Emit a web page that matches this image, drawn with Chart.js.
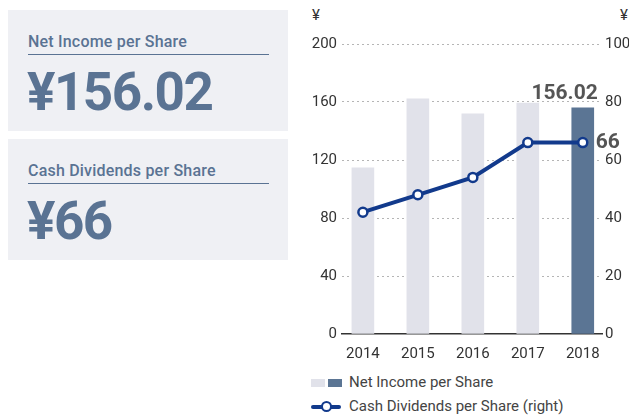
<!DOCTYPE html>
<html>
<head>
<meta charset="utf-8">
<script src="https://cdn.jsdelivr.net/npm/chart.js@4/dist/chart.umd.min.js"></script>
<style>
  body { margin: 0; width: 629px; height: 415px; background: #fff; font-family: Roboto, sans-serif; position: relative; overflow: hidden; }
  .panel { position: absolute; left: 8px; width: 280px; height: 121px; background: #eff0f4; color: #5a7393; }
  .panel .title { position: absolute; left: 20px; top: 22px; width: 241px; font-size: 16px; font-weight: 500; padding-bottom: 3px; border-bottom: 1px solid #5a7393; letter-spacing: 0.2px; }
  .panel .value { position: absolute; left: 19px; top: 56px; font-size: 53px; font-weight: 700; letter-spacing: -1.5px; line-height: 1; }
  .unit { position: absolute; top: 6px; font-size: 15px; color: #333; }
  .legend { position: absolute; left: 311px; font-size: 15px; color: #444; }
  .sw { position: absolute; top: 5px; width: 14px; height: 8px; }
  .lline { position: absolute; left: 0; top: 7px; width: 30px; height: 4px; background: #123a8c; border-radius: 2px; }
  .ldot { position: absolute; left: 10px; top: 3px; width: 7px; height: 7px; border: 2.5px solid #123a8c; border-radius: 50%; background: #fff; }
  .legend span.txt { position: absolute; left: 38px; top: -1px; white-space: nowrap; }
</style>
</head>
<body>
<div class="panel" style="top:10px"><div class="title">Net Income per Share</div><div class="value" id="v1"></div></div>
<div class="panel" style="top:139px"><div class="title">Cash Dividends per Share</div><div class="value" id="v2"></div></div>
<div class="unit" style="left:312px">¥</div>
<div class="unit" style="left:620px">¥</div>
<canvas id="chart" width="339" height="360" style="position:absolute;left:290px;top:0"></canvas>
<div class="legend" style="top:374px">
  <div class="sw" style="left:0;background:#e1e2ea"></div>
  <div class="sw" style="left:17px;background:#5b7594"></div>
  <span class="txt">Net Income per Share</span>
</div>
<div class="legend" style="top:398px">
  <div class="lline"></div><div class="ldot"></div>
  <span class="txt">Cash Dividends per Share (right)</span>
</div>
<script>
const years = ['2014', '2015', '2016', '2017', '2018'];
const netIncome = [114.6, 162.2, 151.8, 159.3, 156.02];
const dividends = [42, 48, 54, 66, 66];
const leftTicks = [0, 40, 80, 120, 160, 200];
const rightTicks = [0, 20, 40, 60, 80, 100];

const last = years.length - 1;
document.getElementById('v1').textContent = '¥' + netIncome[last].toFixed(2);
document.getElementById('v2').textContent = '¥' + dividends[last];

const tickFont = { family: 'Roboto', size: 15 };

// bold values next to the latest year
const latestLabels = {
    id: 'latestLabels',
    afterDatasetsDraw(chart) {
        const ctx = chart.ctx;
        const bar = chart.getDatasetMeta(0).data[last];
        const pt = chart.getDatasetMeta(1).data[last];
        ctx.save();
        ctx.fillStyle = '#555';
        ctx.font = 'bold 21px Roboto';
        ctx.textAlign = 'right';
        ctx.textBaseline = 'alphabetic';
        ctx.fillText(netIncome[last].toFixed(2), bar.x + 15, bar.y - 9);
        ctx.textAlign = 'left';
        ctx.textBaseline = 'middle';
        ctx.fillText(String(dividends[last]), pt.x + 13, pt.y);
        ctx.restore();
    }
};

new Chart(document.getElementById('chart'), {
    type: 'bar',
    data: {
        datasets: [{
            type: 'bar',
            label: 'Net Income per Share',
            data: netIncome.map((v, i) => ({ x: i, y: v })),
            backgroundColor: netIncome.map((v, i) => i === last ? '#5b7594' : '#e1e2ea'),
            barThickness: 22,
            yAxisID: 'y',
            order: 2
        }, {
            type: 'line',
            label: 'Cash Dividends per Share (right)',
            data: dividends.map((v, i) => ({ x: i, y: v })),
            borderColor: '#123a8c',
            borderWidth: 4,
            pointRadius: 4.5,
            pointBackgroundColor: '#fff',
            pointBorderColor: '#123a8c',
            pointBorderWidth: 2.5,
            tension: 0,
            yAxisID: 'y1',
            order: 1
        }]
    },
    options: {
        responsive: false,
        animation: false,
        layout: { padding: { top: 44, left: 0, right: 0, bottom: 0 } },
        plugins: { legend: { display: false }, tooltip: { enabled: false } },
        scales: {
            x: {
                type: 'linear',
                offset: false,
                min: -0.38,
                max: 4.35,
                grid: { display: false, offset: false },
                border: { display: true, color: '#333', width: 1.5 },
                ticks: {
                    stepSize: 1,
                    includeBounds: false,
                    autoSkip: false,
                    maxRotation: 0,
                    padding: 3,
                    color: '#333',
                    font: tickFont,
                    callback: v => Number.isInteger(v) ? years[v] : ''
                },
                afterFit: s => { s.height = 26; }
            },
            y: {
                position: 'left',
                min: 0,
                max: 200,
                afterBuildTicks: s => { s.ticks = leftTicks.map(v => ({ value: v })); },
                grid: {
                    drawTicks: false,
                    color: c => c.tick && c.tick.value === 0 ? 'rgba(0,0,0,0)' : '#b5b5b5'
                },
                border: { display: false, dash: [2, 3] },
                ticks: { padding: 5, color: '#333', font: tickFont },
                afterFit: s => { s.width = 52; }
            },
            y1: {
                position: 'right',
                min: 0,
                max: 100,
                afterBuildTicks: s => { s.ticks = rightTicks.map(v => ({ value: v })); },
                grid: { display: false, drawTicks: false },
                border: { display: false },
                ticks: { padding: 3, color: '#333', font: tickFont },
                afterFit: s => { s.width = 27; }
            }
        }
    },
    plugins: [latestLabels]
});
</script>
</body>
</html>
